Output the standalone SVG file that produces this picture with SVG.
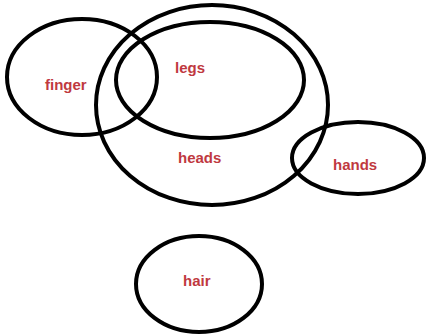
<svg xmlns="http://www.w3.org/2000/svg" width="426" height="336" viewBox="0 0 426 336">
<style>
.set{fill:none;stroke:#000;stroke-width:4}
.lbl{font-family:"Liberation Sans",Arial,sans-serif;font-weight:bold;font-size:15px;fill:#c0393f}
</style>
<rect width="426" height="336" fill="#fff"/>
<g id="finger"><ellipse class="set" cx="82" cy="77" rx="75" ry="58"/><text class="lbl" x="45" y="90">finger</text></g>
<g id="heads"><ellipse class="set" cx="212" cy="105" rx="116" ry="100"/><text class="lbl" x="178" y="163">heads</text></g>
<g id="legs"><ellipse class="set" cx="210" cy="80" rx="94" ry="58"/><text class="lbl" x="175" y="73">legs</text></g>
<g id="hands"><ellipse class="set" cx="358" cy="158" rx="66" ry="36"/><text class="lbl" x="333" y="170">hands</text></g>
<g id="hair"><ellipse class="set" cx="199" cy="284" rx="63" ry="48"/><text class="lbl" x="183" y="286">hair</text></g>
<g id="connectors"/>
</svg>
